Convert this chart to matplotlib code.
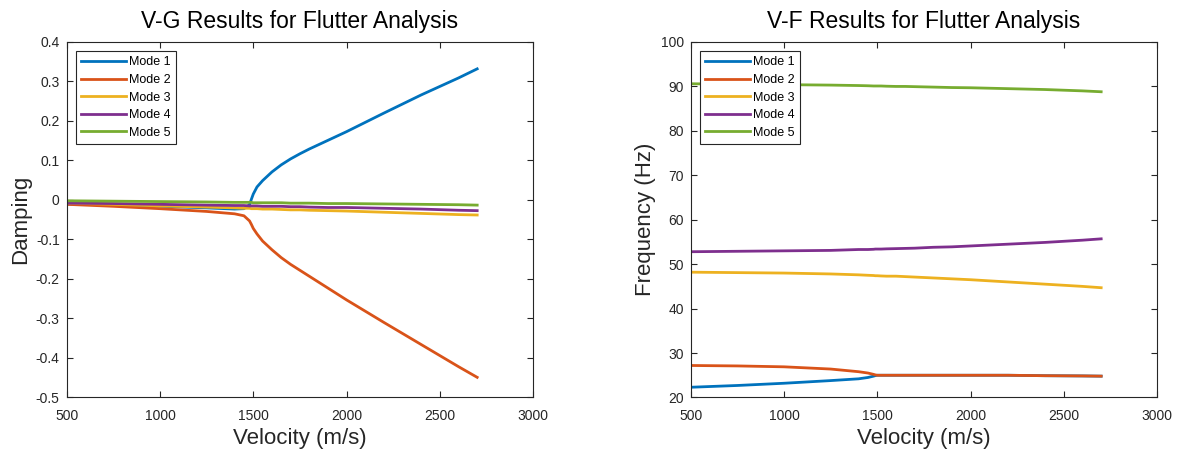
import matplotlib.pyplot as plt

# velocity samples (m/s)
vel = [500, 750, 1000, 1250, 1400, 1450, 1480, 1490, 1500, 1520, 1550,
       1600, 1650, 1700, 1750, 1800, 1900, 2000, 2200, 2400, 2600, 2700]

# damping
g_mode1 = [-0.010, -0.013, -0.016, -0.020, -0.023, -0.022, -0.012, 0.002, 0.015, 0.033, 0.049,
           0.071, 0.089, 0.104, 0.117, 0.129, 0.151, 0.173, 0.220, 0.266, 0.309, 0.332]
g_mode2 = [-0.011, -0.016, -0.022, -0.029, -0.035, -0.040, -0.053, -0.062, -0.072, -0.086, -0.104,
           -0.126, -0.146, -0.163, -0.178, -0.193, -0.223, -0.253, -0.310, -0.366, -0.422, -0.449]
g_mode3 = [-0.008, -0.011, -0.015, -0.018, -0.020, -0.021, -0.021, -0.022, -0.022, -0.022, -0.023,
           -0.023, -0.024, -0.025, -0.025, -0.026, -0.027, -0.028, -0.031, -0.034, -0.037, -0.038]
g_mode4 = [-0.008, -0.009, -0.011, -0.013, -0.014, -0.014, -0.015, -0.015, -0.015, -0.015, -0.016,
           -0.016, -0.016, -0.017, -0.017, -0.018, -0.019, -0.019, -0.021, -0.023, -0.026, -0.027]
g_mode5 = [-0.002, -0.003, -0.004, -0.005, -0.006, -0.006, -0.006, -0.006, -0.007, -0.007, -0.007,
           -0.007, -0.007, -0.008, -0.008, -0.008, -0.009, -0.009, -0.010, -0.011, -0.012, -0.013]

# frequency (Hz)
f_mode1 = [22.3, 22.7, 23.2, 23.8, 24.2, 24.5, 24.8, 24.92, 25.0, 25.0, 25.0,
           25.0, 25.0, 25.0, 25.0, 25.0, 25.0, 25.0, 25.0, 24.9, 24.85, 24.8]
f_mode2 = [27.2, 27.1, 26.9, 26.4, 25.8, 25.5, 25.2, 25.08, 25.0, 25.0, 25.0,
           25.0, 25.0, 25.0, 25.0, 25.0, 25.0, 25.0, 25.0, 24.9, 24.85, 24.8]
f_mode3 = [48.2, 48.1, 48.0, 47.8, 47.6, 47.5, 47.45, 47.4, 47.4, 47.35, 47.3,
           47.3, 47.2, 47.1, 47.0, 46.9, 46.7, 46.5, 46.0, 45.5, 45.0, 44.7]
f_mode4 = [52.8, 52.9, 53.0, 53.1, 53.3, 53.3, 53.35, 53.4, 53.4, 53.4, 53.45,
           53.5, 53.55, 53.6, 53.7, 53.8, 53.9, 54.1, 54.5, 54.9, 55.4, 55.7]
f_mode5 = [90.6, 90.5, 90.4, 90.3, 90.2, 90.15, 90.1, 90.1, 90.1, 90.1, 90.05,
           90.0, 90.0, 89.95, 89.9, 89.85, 89.75, 89.7, 89.5, 89.3, 89.0, 88.8]

labels = ['Mode 1', 'Mode 2', 'Mode 3', 'Mode 4', 'Mode 5']
colors = ['#0072BD', '#D95319', '#EDB120', '#7E2F8E', '#77AC30']

plt.rcParams['font.family'] = ['Liberation Sans', 'DejaVu Sans']
dark = '#262626'

fig = plt.figure(figsize=(11.78, 4.54), dpi=100)
ax1 = fig.add_axes([0.0566, 0.1245, 0.396, 0.783])
ax2 = fig.add_axes([0.5863, 0.1245, 0.396, 0.783])


def style(ax, title, ylabel):
    ax.set_title(title, fontsize=16.5, color='black', pad=10)
    ax.set_xlabel('Velocity (m/s)', fontsize=16, color=dark, labelpad=4)
    ax.set_ylabel(ylabel, fontsize=16, color=dark, labelpad=3)
    ax.set_xlim(500, 3000)
    ax.set_xticks([500, 1000, 1500, 2000, 2500, 3000])
    ax.tick_params(direction='in', top=True, right=True, length=4, width=0.8,
                   labelsize=10, colors=dark, pad=5)
    ax.tick_params(axis='x', pad=8)
    for s in ax.spines.values():
        s.set_color(dark)
        s.set_linewidth(0.8)
    leg = ax.legend(loc='upper left', fontsize=9, fancybox=False, framealpha=1,
                    edgecolor=dark, handlelength=3.6, labelspacing=0.45,
                    borderaxespad=0.75, handletextpad=0.25, borderpad=0.4)
    leg.get_frame().set_linewidth(0.8)


for g, c, lab in zip([g_mode1, g_mode2, g_mode3, g_mode4, g_mode5], colors, labels):
    ax1.plot(vel, g, color=c, lw=2, label=lab)
ax1.set_ylim(-0.5, 0.4)
ax1.set_yticks([-0.5, -0.4, -0.3, -0.2, -0.1, 0, 0.1, 0.2, 0.3, 0.4])
ax1.set_yticklabels(['-0.5', '-0.4', '-0.3', '-0.2', '-0.1', '0', '0.1', '0.2', '0.3', '0.4'])
style(ax1, 'V-G Results for Flutter Analysis', 'Damping')

for f, c, lab in zip([f_mode1, f_mode2, f_mode3, f_mode4, f_mode5], colors, labels):
    ax2.plot(vel, f, color=c, lw=2, label=lab)
ax2.set_ylim(20, 100)
ax2.set_yticks(range(20, 101, 10))
style(ax2, 'V-F Results for Flutter Analysis', 'Frequency (Hz)')

fig.savefig('out.png', dpi=100)
